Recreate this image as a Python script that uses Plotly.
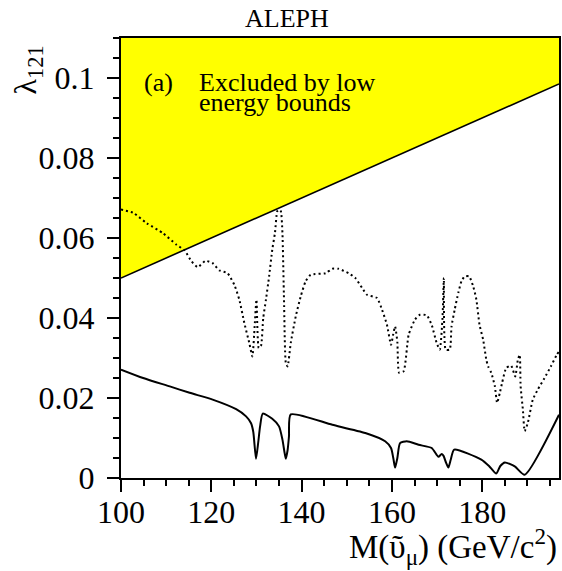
import plotly.graph_objects as go

# ---- data ----
bound_mass = [100, 197]
bound_lambda = [0.050, 0.0985]
y_top = 0.11

solid_mass = [100, 104.9, 110.8, 115.2, 120.3, 125.5, 127.7, 128.8, 129.3, 129.9, 130.4, 130.8,
              131.4, 133.5, 135.0, 135.75, 136.2, 136.5, 136.9, 137.2, 137.6, 146.8, 154.1, 158.5,
              159.8, 160.3, 160.7, 161.2, 161.8, 163.3, 165.9, 168.8, 170.3, 171.0, 171.4, 172.0,
              172.5, 173.0, 173.8, 179.8, 181.5, 183.1, 184.0, 185.0, 187.2, 189.4, 197]
solid_lambda = [0.0271, 0.025, 0.0229, 0.0213, 0.0196, 0.0172, 0.0154, 0.0137, 0.0115, 0.0048, 0.0090, 0.0129,
                0.0161, 0.0148, 0.0129, 0.0096, 0.0065, 0.0048, 0.0070, 0.0104, 0.0159, 0.0133, 0.01125, 0.0092,
                0.0075, 0.0050, 0.0026, 0.0050, 0.0087, 0.0092, 0.0083, 0.0075, 0.0053, 0.0060, 0.0056, 0.0038,
                0.0026, 0.0045, 0.0071, 0.0046, 0.0030, 0.0011, 0.0030, 0.0039, 0.0029, 0.0008, 0.0158]

dotted_mass = [100, 102.7, 105.7, 109.3, 112.3, 114.1, 115.6, 117.0, 118.7, 120.3, 121.8, 123.6, 125.1,
               126.2, 127.3, 128.4, 129.1, 129.6, 130.0, 130.5, 131.0, 131.5, 132.1, 132.8, 133.5, 134.1,
               134.6, 135.0, 135.4, 135.75, 136.1, 136.5, 136.9, 137.6, 138.7, 139.8, 140.9, 142.0, 145.3,
               146.8, 148.2, 150.4, 151.9, 153.4, 154.5, 156.7, 157.8, 158.9, 159.8, 160.3, 160.7, 161.2,
               161.6, 162.6, 163.7, 165.1, 166.2, 167.7, 168.8, 169.9, 170.6, 171.2, 171.5, 171.9, 172.8,
               173.2, 173.9, 174.7, 175.4, 176.1, 177.1, 178.0, 178.7, 179.4, 180.2, 180.9, 181.3, 182.0,
               182.8, 183.3, 183.9, 184.4, 185.3, 186.4, 187.3, 187.9, 188.3, 188.5, 189.0, 189.4, 190.1,
               191.2, 192.3, 193.8, 195.2, 196.5, 197]
dotted_lambda = [0.0671, 0.0663, 0.0637, 0.0612, 0.0583, 0.0569, 0.0542, 0.0527, 0.0543, 0.0537, 0.0519, 0.0512, 0.0483,
                 0.0446, 0.0388, 0.0338, 0.0304, 0.0380, 0.0446, 0.0325, 0.0330, 0.0400, 0.0446, 0.0504, 0.0571, 0.0613,
                 0.0667, 0.0671, 0.0667, 0.0613, 0.0446, 0.0288, 0.0279, 0.0338, 0.0404, 0.0454, 0.0492, 0.0508, 0.0512,
                 0.0523, 0.0523, 0.0512, 0.0500, 0.0475, 0.0458, 0.0450, 0.0421, 0.0383, 0.0333, 0.0360, 0.0379, 0.0340,
                 0.0263, 0.0267, 0.0358, 0.0396, 0.0408, 0.0407, 0.0383, 0.0338, 0.0321, 0.0400, 0.0500, 0.0321, 0.0321,
                 0.0379, 0.0421, 0.0463, 0.0492, 0.0504, 0.0504, 0.0479, 0.0446, 0.0383, 0.0346, 0.0296, 0.0279, 0.0263,
                 0.0229, 0.0188, 0.0213, 0.0238, 0.0275, 0.0281, 0.0254, 0.0296, 0.0308, 0.0229, 0.0171, 0.0117, 0.0138,
                 0.0196, 0.0221, 0.0250, 0.0279, 0.0308, 0.0316]

assert len(solid_mass) == len(solid_lambda)
assert len(dotted_mass) == len(dotted_lambda)

x_ticks = [100, 120, 140, 160, 180]
y_ticks = [0, 0.02, 0.04, 0.06, 0.08, 0.1]
y_tick_text = ["0", "0.02", "0.04", "0.06", "0.08", "0.1"]

FONT = "Liberation Serif, Times New Roman, serif"

fig = go.Figure()

# excluded region (yellow)
fig.add_trace(go.Scatter(
    x=[bound_mass[0], bound_mass[1], bound_mass[1], bound_mass[0]],
    y=[bound_lambda[0], bound_lambda[1], y_top, y_top],
    fill="toself", fillcolor="#ffff00", mode="lines",
    line=dict(width=0), hoverinfo="skip", showlegend=False))
fig.add_trace(go.Scatter(x=bound_mass, y=bound_lambda, mode="lines",
                         line=dict(color="black", width=1.6), showlegend=False))

fig.add_trace(go.Scatter(x=dotted_mass, y=dotted_lambda, mode="lines",
                         line=dict(color="black", width=2, dash="2px,3px", shape="spline", smoothing=0.5),
                         showlegend=False))
fig.add_trace(go.Scatter(x=solid_mass, y=solid_lambda, mode="lines",
                         line=dict(color="black", width=2, shape="spline", smoothing=0.6),
                         showlegend=False))

axis_common = dict(showgrid=False, zeroline=False, showline=True, linecolor="black", linewidth=2,
                   mirror=True, ticks="outside", ticklen=12, tickwidth=1.5, tickcolor="black",
                   tickfont=dict(family=FONT, size=32, color="black"))

fig.update_xaxes(range=[100, 197], tickvals=x_ticks, ticklabelstandoff=-7,
                 minor=dict(dtick=5, tick0=100, ticks="outside", ticklen=6, tickwidth=1.5, tickcolor="black"),
                 **axis_common)
fig.update_yaxes(range=[0, y_top], tickvals=y_ticks, ticktext=y_tick_text, ticklabelstandoff=6,
                 minor=dict(dtick=0.005, tick0=0, ticks="outside", ticklen=6, tickwidth=1.5, tickcolor="black"),
                 **axis_common)

def py(pixel_y):
    # paper fraction for a pixel row (plot area spans rows 38..478)
    return (478 - pixel_y) / 440

def px(pixel_x):
    return (pixel_x - 121) / 440

ann_font = dict(family=FONT, size=26, color="black")
fig.update_layout(
    width=562, height=571,
    margin=dict(l=121, r=1, t=38, b=93),
    plot_bgcolor="white", paper_bgcolor="white",
    annotations=[
        dict(text="ALEPH", xref="paper", yref="paper", x=px(288), y=py(19),
             yanchor="middle", xanchor="center", showarrow=False, font=ann_font),
        dict(text="(a)", xref="paper", yref="paper", x=px(142), y=py(82), xanchor="left", yanchor="middle",
             showarrow=False, font=ann_font),
        dict(text="Excluded by low", xref="paper", yref="paper", x=px(197), y=py(82), xanchor="left",
             yanchor="middle", showarrow=False, font=ann_font),
        dict(text="energy bounds", xref="paper", yref="paper", x=px(197), y=py(102), xanchor="left",
             yanchor="middle", showarrow=False, font=ann_font),
        dict(text="λ<sub>121</sub>", xref="paper", yref="paper", x=px(27), y=py(70),
             textangle=-90, xanchor="center", yanchor="middle", showarrow=False,
             font=dict(family=FONT, size=32, color="black")),
        dict(text="M(ῦ<sub>μ</sub>) (GeV/c<sup>2</sup>)", xref="paper", yref="paper", x=px(561),
             y=py(546), xanchor="right", yanchor="middle", showarrow=False,
             font=dict(family=FONT, size=33, color="black")),
    ],
)

fig.write_html("out.html")
